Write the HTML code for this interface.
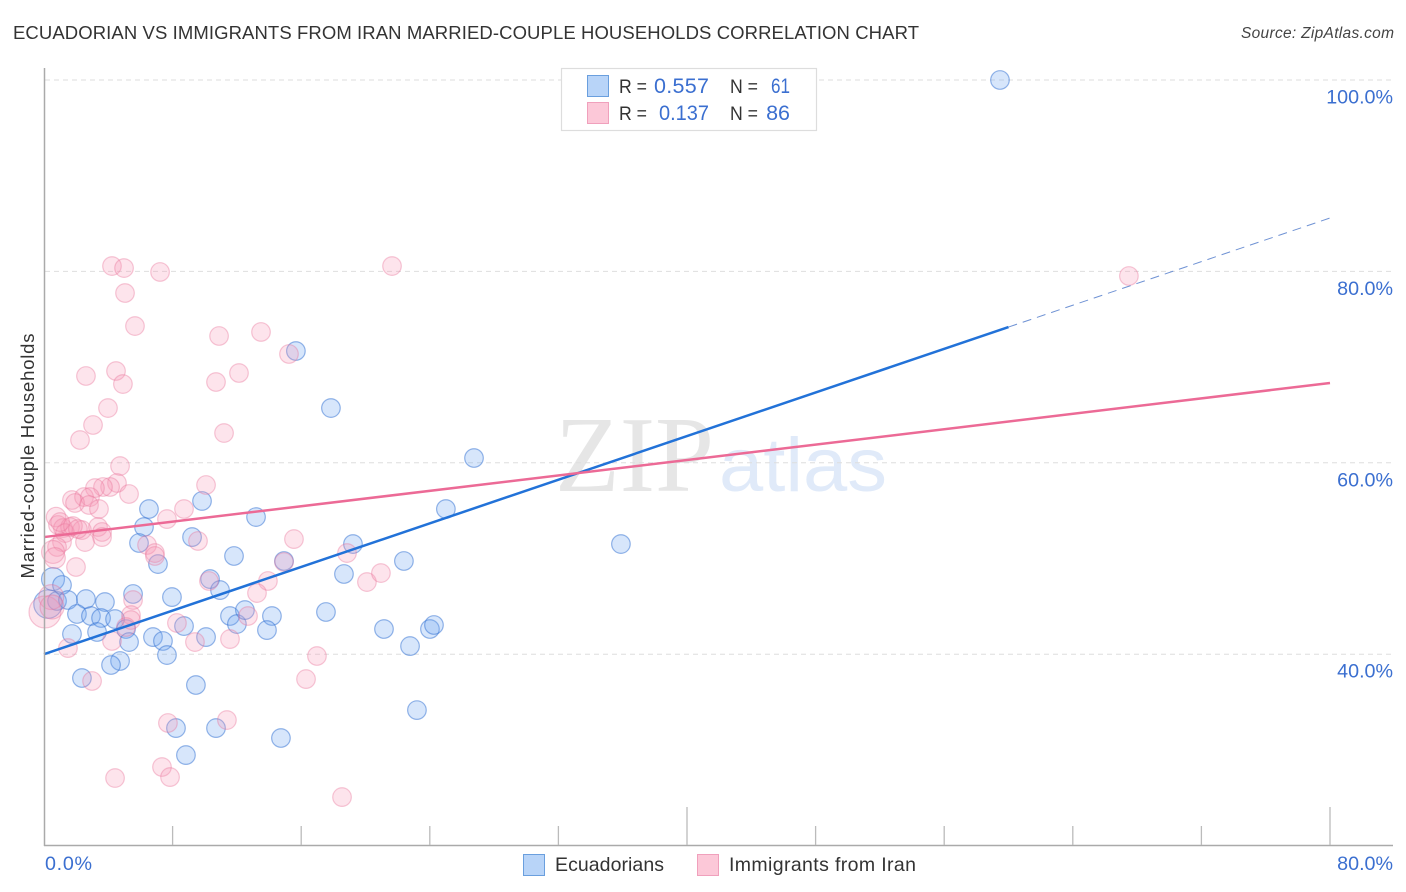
<!DOCTYPE html>
<html>
<head>
<meta charset="utf-8">
<title>Ecuadorian vs Immigrants from Iran Married-couple Households Correlation Chart</title>
<style>
html,body{margin:0;padding:0;background:#fff;width:1406px;height:892px;overflow:hidden}
svg{display:block;font-family:"Liberation Sans",sans-serif}
</style>
</head>
<body>
<svg id="chart" width="1406" height="892" viewBox="0 0 1406 892" xmlns="http://www.w3.org/2000/svg">
  <rect width="1406" height="892" fill="#fff"/>
  <text x="13" y="39" font-size="18.5" fill="#333" textLength="906" lengthAdjust="spacing">ECUADORIAN VS IMMIGRANTS FROM IRAN MARRIED-COUPLE HOUSEHOLDS CORRELATION CHART</text>
  <text x="1241" y="38" font-size="15.5" font-style="italic" fill="#444" textLength="153" lengthAdjust="spacing">Source: ZipAtlas.com</text>
  <g>
    <text x="555" y="491" font-family="'Liberation Serif',serif" font-size="108" fill="#e6e6e6" textLength="159" lengthAdjust="spacingAndGlyphs">ZIP</text>
    <text x="719" y="491" font-size="76" fill="#e0eaf9" textLength="168" lengthAdjust="spacingAndGlyphs">atlas</text>
  </g>
  <g id="grid"></g>
  <g id="yticks"></g>
  <g id="points-a"></g>
  <g id="points-b"></g>
  <g id="trends"></g>
  <line x1="44.5" y1="68" x2="44.5" y2="846" stroke="#aaa" stroke-width="1.5"/>
  <line x1="44" y1="845.5" x2="1393" y2="845.5" stroke="#aaa" stroke-width="1.5"/>
  <g id="xticks"></g>
  <text transform="translate(34 456) rotate(-90)" font-size="18.5" fill="#333" text-anchor="middle" textLength="245" lengthAdjust="spacing">Married-couple Households</text>

  <g>
    <rect x="561.5" y="68.5" width="255" height="62" fill="#fff" stroke="#ddd" stroke-width="1.2"/>
    <rect x="587.5" y="75.5" width="21" height="21" fill="#b8d4f8" stroke="#6a9fde" stroke-width="1"/>
    <rect x="587.5" y="102.5" width="21" height="21" fill="#fcc8d8" stroke="#f0a0bc" stroke-width="1"/>
    <text x="619" y="93" font-size="19.5" fill="#333" textLength="28" lengthAdjust="spacingAndGlyphs">R =</text>
    <text x="654" y="93" font-size="21.5" fill="#3b6fd0" textLength="55" lengthAdjust="spacing">0.557</text>
    <text x="730" y="93" font-size="19.5" fill="#333" textLength="28" lengthAdjust="spacingAndGlyphs">N =</text>
    <text x="771" y="93" font-size="21.5" fill="#3b6fd0" textLength="19" lengthAdjust="spacingAndGlyphs">61</text>
    <text x="619" y="120" font-size="19.5" fill="#333" textLength="28" lengthAdjust="spacingAndGlyphs">R =</text>
    <text x="659" y="120" font-size="21.5" fill="#3b6fd0" textLength="50" lengthAdjust="spacingAndGlyphs">0.137</text>
    <text x="730" y="120" font-size="19.5" fill="#333" textLength="28" lengthAdjust="spacingAndGlyphs">N =</text>
    <text x="790" y="120" font-size="21.5" fill="#3b6fd0" text-anchor="end">86</text>
  </g>

  <g>
    <g>
      <rect x="523.5" y="854.5" width="21" height="21" fill="#b8d4f8" stroke="#6a9fde" stroke-width="1"/>
      <text x="555" y="871" font-size="19.5" fill="#333" textLength="109" lengthAdjust="spacing">Ecuadorians</text>
    </g>
    <g>
      <rect x="697.5" y="854.5" width="21" height="21" fill="#fcc8d8" stroke="#f0a0bc" stroke-width="1"/>
      <text x="729" y="871" font-size="19.5" fill="#333" textLength="187" lengthAdjust="spacing">Immigrants from Iran</text>
    </g>
  </g>
</svg>
<script>
const ecuadorianShare = [59.47,15.67,17.85,26.75,25.0,35.89,6.53,9.83,6.22,13.19,5.91,7.09,9.21,11.82,19.22,14.93,18.66,22.39,10.33,10.95,5.54,7.96,0.56,1.12,0.25,0.81,1.49,2.61,3.79,2.05,2.92,3.55,4.42,1.74,3.30,5.10,5.29,6.78,7.40,7.65,8.71,10.08,11.57,12.0,12.5,14.18,13.87,17.54,21.15,24.01,24.26,22.77,4.73,4.17,2.36,9.45,23.2,8.21,10.70,14.74,8.83];
const ecuadorianMarried = [100,71.68,65.72,60.50,55.17,51.51,55.17,56.01,53.29,54.33,51.62,49.42,52.24,50.26,51.51,49.74,48.38,49.74,47.85,46.70,46.29,45.97,47.85,47.23,45.24,45.56,45.66,45.76,45.45,44.20,43.99,43.78,43.67,42.11,42.32,42.63,41.27,41.79,41.38,39.91,42.94,41.79,43.99,43.15,44.61,43.99,42.52,44.41,42.63,42.63,43.05,40.85,39.29,38.87,37.51,36.78,34.16,32.28,32.28,31.24,29.46];
const iranShare = [4.23,4.98,7.22,21.65,67.49,5.04,5.66,13.50,10.89,15.24,4.48,2.61,12.13,10.70,4.91,3.98,3.05,11.20,2.24,4.73,10.08,4.54,4.11,3.67,3.17,5.29,1.74,2.49,2.86,1.93,2.80,3.42,8.71,7.65,0.75,0.87,1.18,1.62,1.31,2.36,3.36,3.61,3.61,2.55,1.12,0.81,0.56,0.68,1.99,6.41,6.90,6.90,9.58,15.55,14.93,13.93,13.25,10.26,12.69,5.54,5.41,5.41,5.10,4.23,8.27,9.39,11.57,1.49,2.99,16.30,16.98,18.85,20.09,20.96,7.71,11.38,7.34,7.84,4.42,18.54,0.06,0.45,1.80,2.11,1.0,0.5];
const iranMarried = [80.56,80.35,79.94,80.56,79.52,77.74,74.29,73.67,73.25,71.37,69.59,69.07,69.38,68.44,68.23,65.72,63.95,63.11,62.38,59.66,57.68,57.89,57.47,57.47,57.36,56.74,56.11,56.42,56.42,55.80,55.59,55.17,55.17,54.12,54.33,53.50,53.18,53.29,52.66,52.97,53.29,52.77,52.24,51.72,51.72,51.20,50.68,50.05,49.11,51.41,50.57,50.26,51.83,52.03,49.63,47.65,46.39,47.65,43.99,45.66,44.09,43.57,42.84,41.38,43.26,41.27,41.58,40.64,37.20,37.40,39.81,50.57,47.54,48.48,32.81,33.12,28.21,27.16,27.06,25.07,44.41,45.97,53.39,53.08,53.81,44.93];
const ecuadorianTrend = [40.0, 85.58];
const iranTrend = [52.24, 68.34];
const trendDomain = [0, 80];
const ecuadorianSolidEnd = 60;
const yTickValues = [100, 80, 60, 40];
const yTickLabels = ["100.0%", "80.0%", "60.0%", "40.0%"];
const xTickValues = [0, 8, 16, 24, 32, 40, 48, 56, 64, 72, 80];
const xMajorTicks = [0, 40, 80];
const xEndLabels = ["0.0%", "80.0%"];

const NS = "http://www.w3.org/2000/svg";
function xScale(v) { return 44 + v * (1330 - 44) / 80; }
function yScale(v) { return 80 + (100 - v) * 9.57; }
function pointRadius(x) { return 9.3 + Math.max(0, 0.8 - x) * 9; }
function lerp(a, b, t) { return a + (b - a) * t; }
function make(tag, attrs) {
  const el = document.createElementNS(NS, tag);
  for (const k in attrs) el.setAttribute(k, attrs[k]);
  return el;
}

const gridGroup = document.getElementById("grid");
const yTickGroup = document.getElementById("yticks");
yTickValues.forEach(function (v, i) {
  const gridLine = make("line", { x1: 45, x2: 1393, y1: yScale(v), y2: yScale(v), stroke: "#dedede", "stroke-width": 1, "stroke-dasharray": "5 4" });
  
  
  gridGroup.appendChild(gridLine);
  const tickLabel = make("text", { x: 1393, y: yScale(v) + 23.5, "font-size": 19.7, fill: "#3b6fd0", "text-anchor": "end" });
  
  
  tickLabel.textContent = yTickLabels[i];
  yTickGroup.appendChild(tickLabel);
});

const xTickGroup = document.getElementById("xticks");
xTickValues.forEach(function (v) {
  const isMajor = xMajorTicks.indexOf(v) >= 0;
  if (v === 0) return;
  const tick = make("line", { x1: xScale(v), x2: xScale(v), y1: isMajor ? 807 : 826, y2: 845, stroke: "#bbb", "stroke-width": 1.3 });
  
  
  xTickGroup.appendChild(tick);
});
const xLabelLeft = make("text", { x: 45, y: 870, "font-size": 19.7, fill: "#3b6fd0", textLength: 47, lengthAdjust: "spacing" });


xLabelLeft.textContent = xEndLabels[0];
xTickGroup.appendChild(xLabelLeft);
const xLabelRight = make("text", { x: 1393, y: 870, "font-size": 19.7, fill: "#3b6fd0", "text-anchor": "end" });


xLabelRight.textContent = xEndLabels[1];
xTickGroup.appendChild(xLabelRight);

const groupA = document.getElementById("points-a");
ecuadorianShare.forEach(function (x, i) {
  const dot = make("circle", { cx: xScale(x), cy: yScale(ecuadorianMarried[i]), r: pointRadius(x), fill: "rgba(110,165,240,0.28)", stroke: "rgba(45,110,210,0.5)", "stroke-width": 1.2 });
  
  
  groupA.appendChild(dot);
});
const groupB = document.getElementById("points-b");
iranShare.forEach(function (x, i) {
  const dot = make("circle", { cx: xScale(x), cy: yScale(iranMarried[i]), r: pointRadius(x), fill: "rgba(248,150,180,0.26)", stroke: "rgba(232,110,150,0.38)", "stroke-width": 1.2 });
  
  
  groupB.appendChild(dot);
});

const trendGroup = document.getElementById("trends");
const solidT = (ecuadorianSolidEnd - trendDomain[0]) / (trendDomain[1] - trendDomain[0]);
const solidEndValue = lerp(ecuadorianTrend[0], ecuadorianTrend[1], solidT);
const blueSolid = make("line", { x1: xScale(trendDomain[0]), y1: yScale(ecuadorianTrend[0]), x2: xScale(ecuadorianSolidEnd), y2: yScale(solidEndValue), stroke: "#2272d8", "stroke-width": 2.5 });


trendGroup.appendChild(blueSolid);
const blueDash = make("line", { x1: xScale(ecuadorianSolidEnd), y1: yScale(solidEndValue), x2: xScale(trendDomain[1]), y2: yScale(ecuadorianTrend[1]), stroke: "#6f92d4", "stroke-width": 1, "stroke-dasharray": "9 6" });


trendGroup.appendChild(blueDash);
const pinkLine = make("line", { x1: xScale(trendDomain[0]), y1: yScale(iranTrend[0]), x2: xScale(trendDomain[1]), y2: yScale(iranTrend[1]), stroke: "#ec6a96", "stroke-width": 2.5 });


trendGroup.appendChild(pinkLine);
</script>
</body>
</html>
